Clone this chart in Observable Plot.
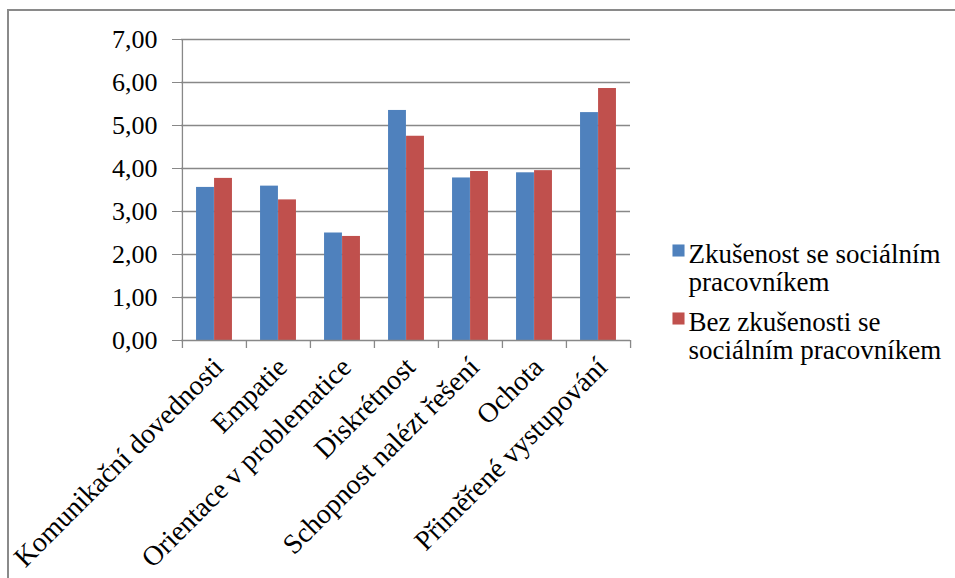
<!DOCTYPE html>
<html>
<head>
<meta charset="utf-8">
<script src="https://cdn.jsdelivr.net/npm/d3@7"></script>
<script src="https://cdn.jsdelivr.net/npm/@observablehq/plot@0.6"></script>
<style>
  body { margin: 0; background: #fff; }
  #wrap { position: relative; width: 955px; height: 578px; overflow: hidden; background: #fff; }
  #border { position: absolute; left: 7px; top: 9px; width: 1100px; height: 1100px;
            border: 2px solid #8a8a8a; box-sizing: border-box; pointer-events: none; }
  #chart { position: absolute; left: 0; top: 0; }
</style>
</head>
<body>
<div id="wrap">
  <div id="border"></div>
  <div id="chart"></div>
</div>
<script>
const categories = [
  "Komunikační dovednosti",
  "Empatie",
  "Orientace v problematice",
  "Diskrétnost",
  "Schopnost nalézt řešení",
  "Ochota",
  "Přiměřené vystupování"
];
// legend labels, as wrapped in the reference
const seriesLabelLines = [
  ["Zkušenost se sociálním", "pracovníkem"],
  ["Bez zkušenosti se", "sociálním pracovníkem"]
];
const seriesNames = seriesLabelLines.map(l => l.join(" "));
const withExperience    = [3.56, 3.59, 2.50, 5.35, 3.78, 3.90, 5.30];
const withoutExperience = [3.77, 3.27, 2.42, 4.75, 3.93, 3.95, 5.86];
const yTicks = [0, 1, 2, 3, 4, 5, 6, 7];
const colors = ["#4F81BD", "#C0504D"];

const W = 955, H = 578;
const mLeft = 181, mRight = 325, mTop = 39, mBottom = 238;
const bw = (W - mLeft - mRight) / categories.length;
const gap = bw * 0.219;

const d1 = categories.map((c, i) => ({category: c, value: withExperience[i]}));
const d2 = categories.map((c, i) => ({category: c, value: withoutExperience[i]}));
const gridColor = "#888888";
const fmt = d => d.toFixed(2).replace(".", ",");
const FONT = "Liberation Serif, Times New Roman, serif";

// legend layout (pixel offsets from the frame's top-left corner)
const legendSwatchX = 678 - mLeft, legendTextX = 688 - mLeft;
const legendRowY = [242 - mTop, 310 - mTop];
const legendSwatchY = [250 - mTop, 318 - mTop];

const legendMarks = seriesNames.flatMap((name, i) => [
  Plot.dot([name], {frameAnchor: "top-left", dx: legendSwatchX, dy: legendSwatchY[i],
    symbol: "square", r: 6.8, fill: colors[i], stroke: "none"}),
  Plot.text([seriesLabelLines[i].join("\n")], {frameAnchor: "top-left", dx: legendTextX, dy: legendRowY[i],
    text: d => d, textAnchor: "start", lineAnchor: "top", lineHeight: 1.05, fontSize: 27, fill: "#000"})
]);

const plot = Plot.plot({
  width: W, height: H,
  marginLeft: mLeft, marginRight: mRight, marginTop: mTop, marginBottom: mBottom,
  style: {fontFamily: FONT, fontSize: "25px", color: "#000", background: "transparent", overflow: "visible"},
  x: {domain: categories, padding: 0, label: null},
  y: {domain: [0, 7], label: null},
  marks: [
    Plot.ruleY(yTicks.slice(1), {y: d => d, stroke: gridColor, strokeWidth: 1.3}),
    Plot.barY(d1, {x: "category", y: "value", fill: colors[0], insetLeft: gap, insetRight: bw / 2}),
    Plot.barY(d2, {x: "category", y: "value", fill: colors[1], insetLeft: bw / 2, insetRight: gap}),
    Plot.ruleY([0], {y: d => d, stroke: gridColor, strokeWidth: 1.3}),
    Plot.ruleX([categories[0]], {x: d => d, dx: -bw / 2, stroke: gridColor, strokeWidth: 1.3}),
    Plot.ruleX(categories, {x: d => d, dx: -bw / 2, y1: 0, y2: 0, insetBottom: -8, stroke: gridColor, strokeWidth: 1.3}),
    Plot.ruleX([categories[categories.length - 1]], {x: d => d, dx: bw / 2, y1: 0, y2: 0, insetBottom: -8, stroke: gridColor, strokeWidth: 1.3}),
    Plot.axisY(yTicks, {tickSize: 9, tickPadding: 15, fontSize: 26, tickFormat: fmt, stroke: gridColor, fill: "#000", label: null}),
    Plot.axisX({tickRotate: -45, tickSize: 0, tickPadding: 22, dx: 4, fontSize: 28, fill: "#000", label: null}),
    ...legendMarks
  ]
});
document.getElementById("chart").appendChild(plot);
</script>
</body>
</html>
